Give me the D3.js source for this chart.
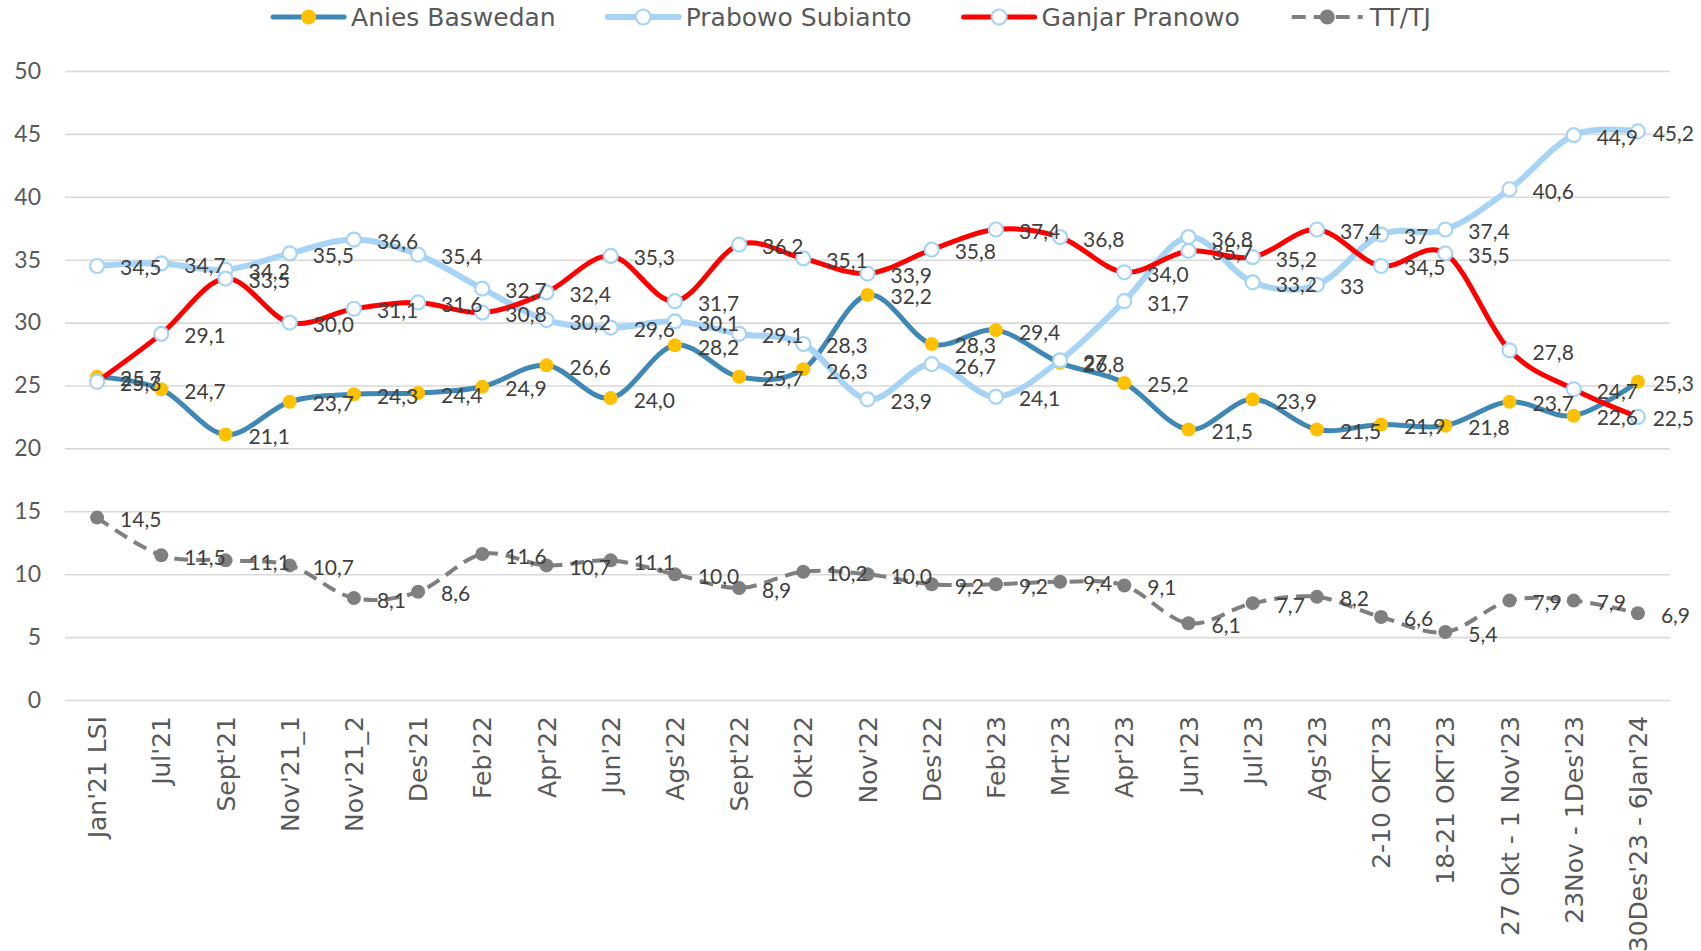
<!DOCTYPE html>
<html><head><meta charset="utf-8">
<script src="https://cdn.jsdelivr.net/npm/d3@7"></script>
<style>body{margin:0;background:#fff}svg{display:block}</style>
</head><body>
<svg id="chart" width="1701" height="951"></svg>
<script>
// ---------- DATA ----------
const categories = ["Jan'21 LSI","Jul'21","Sept'21","Nov'21_1","Nov'21_2","Des'21","Feb'22","Apr'22","Jun'22","Ags'22","Sept'22","Okt'22","Nov'22","Des'22","Feb'23","Mrt'23","Apr'23","Jun'23","Jul'23","Ags'23","2-10 OKT'23","18-21 OKT'23","27 Okt - 1 Nov'23","23Nov - 1Des'23","30Des'23 - 6Jan'24"];
const aniesValues   = [25.7,24.7,21.1,23.7,24.3,24.4,24.9,26.6,24.0,28.2,25.7,26.3,32.2,28.3,29.4,26.8,25.2,21.5,23.9,21.5,21.9,21.8,23.7,22.6,25.3];
const prabowoValues = [34.5,34.7,34.2,35.5,36.6,35.4,32.7,30.2,29.6,30.1,29.1,28.3,23.9,26.7,24.1,27,31.7,36.8,33.2,33,37,37.4,40.6,44.9,45.2];
const ganjarValues  = [25.3,29.1,33.5,30.0,31.1,31.6,30.8,32.4,35.3,31.7,36.2,35.1,33.9,35.8,37.4,36.8,34.0,35.7,35.2,37.4,34.5,35.5,27.8,24.7,22.5];
const ttValues      = [14.5,11.5,11.1,10.7,8.1,8.6,11.6,10.7,11.1,10.0,8.9,10.2,10.0,9.2,9.2,9.4,9.1,6.1,7.7,8.2,6.6,5.4,7.9,7.9,6.9];
const seriesNames = ["Anies Baswedan","Prabowo Subianto","Ganjar Pranowo","TT/TJ"];
const labelFormats = [",1",",1",",1",",1"]; // Indonesian decimal comma, see fmt()
const yTicks = [0,5,10,15,20,25,30,35,40,45,50];

// ---------- STYLES ----------
const styles = [
  {line:"#3F88B5", width:5, dash:null, mFill:"#FFC000", mStroke:"#FFC000", mWidth:0},
  {line:"#A7D4F4", width:6, dash:null, mFill:"#FFFFFF", mStroke:"#A7D4F4", mWidth:2.2},
  {line:"#FF0000", width:5, dash:null, mFill:"#FFFFFF", mStroke:"#A7D4F4", mWidth:2.2},
  {line:"#7F7F7F", width:4, dash:"14,8", mFill:"#7F7F7F", mStroke:"#7F7F7F", mWidth:0}
];
const seriesValues = [aniesValues, prabowoValues, ganjarValues, ttValues];
const numFont = "Lato, 'Open Sans', sans-serif";
const txtFont = "'DejaVu Sans', sans-serif";

// keep original precision: values entered as integers in source stay integer-looking
const rawText = [
  aniesValues.map(v=>v.toFixed(1)),
  prabowoValues.map(v=> Number.isInteger(v) ? String(v) : v.toFixed(1)),
  ganjarValues.map(v=>v.toFixed(1)),
  ttValues.map(v=>v.toFixed(1))
];
const fmt = s => s.replace(".", ",");

const svg = d3.select("#chart");
const x = d3.scaleBand().domain(categories).range([65,1670]);
const y = d3.scaleLinear().domain([0,50]).range([700,71]);
const cx = c => x(c) + x.bandwidth()/2;

// gridlines + y axis
const yAxis = svg.append("g").attr("transform","translate(65,0)")
  .call(d3.axisLeft(y).tickValues(yTicks).tickSize(-(1670-65)).tickPadding(24).tickFormat(d=>d));
yAxis.select(".domain").remove();
yAxis.selectAll("line").attr("stroke","#D9D9D9").attr("stroke-width",1.6);
yAxis.selectAll("text").attr("fill","#595959").style("font-family",numFont).style("font-size","23px");

// x axis
const xAxis = svg.append("g").attr("transform","translate(0,700)")
  .call(d3.axisBottom(x).tickSize(0));
xAxis.select(".domain").remove();
xAxis.selectAll("text")
  .attr("transform","rotate(-90)").attr("x",-16).attr("y",0).attr("dy","0.36em")
  .attr("text-anchor","end").attr("fill","#595959")
  .style("font-family",txtFont).style("font-size","25px");

// lines + markers
const lineGen = d3.line().x((d,i)=>cx(categories[i])).y(d=>y(d)).curve(d3.curveCardinal.tension(0));
seriesValues.forEach((vals,si)=>{
  const st = styles[si];
  const g = svg.append("g");
  g.append("path").attr("d",lineGen(vals)).attr("fill","none")
    .attr("stroke",st.line).attr("stroke-width",st.width)
    .attr("stroke-dasharray",st.dash).attr("stroke-linejoin","round").attr("stroke-linecap", st.dash ? "butt":"round");
  g.selectAll("circle").data(vals).join("circle")
    .attr("cx",(d,i)=>cx(categories[i])).attr("cy",d=>y(d)).attr("r",7)
    .attr("fill",st.mFill).attr("stroke",st.mStroke).attr("stroke-width",st.mWidth);
});

// data labels
const lg = svg.append("g");
seriesValues.forEach((vals,si)=>{
  vals.forEach((v,i)=>{
    const t = lg.append("text")
      .attr("x",cx(categories[i])+23).attr("y",y(v)+1)
      .attr("dominant-baseline","central")
      .attr("fill","#404040").style("font-family",numFont).style("font-size","21px")
      .text(fmt(rawText[si][i]));
    const w = t.node().getComputedTextLength();
    const xx = +t.attr("x");
    if (xx + w > 1694) t.attr("x", 1694 - w);
  });
});

// legend
const leg = svg.append("g");
const items = seriesNames.map((name,si)=>{
  const g = leg.append("g");
  const st = styles[si];
  g.append("line").attr("x1",0).attr("x2",71).attr("y1",0).attr("y2",0)
    .attr("stroke",st.line).attr("stroke-width",st.width).attr("stroke-dasharray",st.dash)
    .attr("stroke-linecap", st.dash ? "butt" : "round");
  g.append("circle").attr("cx",35.5).attr("cy",0).attr("r",7.5)
    .attr("fill",st.mFill).attr("stroke",st.mStroke).attr("stroke-width",st.mWidth);
  const t = g.append("text").attr("x",78).attr("y",0).attr("dominant-baseline","central")
    .attr("fill","#595959").style("font-family",txtFont).style("font-size","25px").text(name);
  return {g, w: 78 + t.node().getComputedTextLength()};
});
const gap = 52;
const total = d3.sum(items,d=>d.w) + gap*(items.length-1);
let start = 852 - total/2;
items.forEach(it=>{ it.g.attr("transform",`translate(${start},17)`); start += it.w + gap; });
</script>
</body></html>
